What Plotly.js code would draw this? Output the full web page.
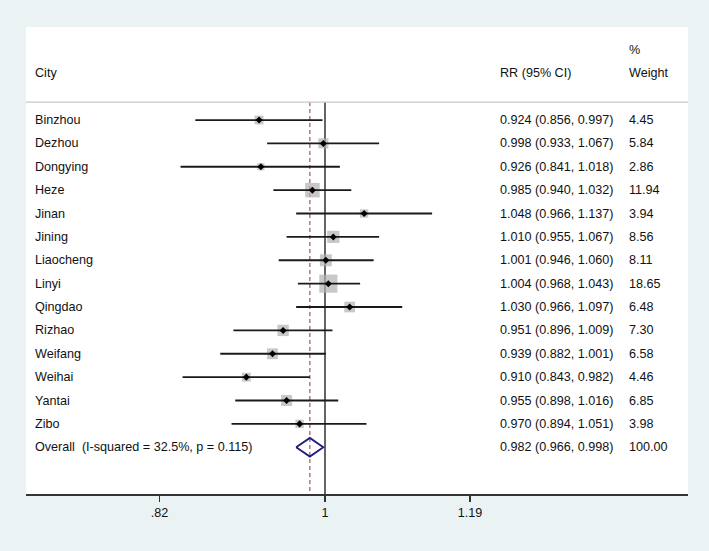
<!DOCTYPE html>
<html>
<head>
<meta charset="utf-8">
<script src="https://cdn.plot.ly/plotly-3.0.1.min.js"></script>
<style>html,body{margin:0;padding:0;background:#eaf2f3;}</style>
</head>
<body>
<div id="chart" style="width:709px;height:551px;"></div>
<script>
// ---- data ----
var cities = ["Binzhou","Dezhou","Dongying","Heze","Jinan","Jining","Liaocheng","Linyi","Qingdao","Rizhao","Weifang","Weihai","Yantai","Zibo"];
var rr     = [0.924,0.998,0.926,0.985,1.048,1.010,1.001,1.004,1.030,0.951,0.939,0.910,0.955,0.970];
var ciLow  = [0.856,0.933,0.841,0.940,0.966,0.955,0.946,0.968,0.966,0.896,0.882,0.843,0.898,0.894];
var ciHigh = [0.997,1.067,1.018,1.032,1.137,1.067,1.060,1.043,1.097,1.009,1.001,0.982,1.016,1.051];
var weights= [4.45,5.84,2.86,11.94,3.94,8.56,8.11,18.65,6.48,7.30,6.58,4.46,6.85,3.98];
var overallLabel = "Overall\u00a0\u00a0(I-squared = 32.5%, p = 0.115)";
var overallRR = 0.982, overallLow = 0.966, overallHigh = 0.998, overallWeight = 100.00;
var tickVals = [0.82, 1, 1.19];
var tickText = [".82", "1", "1.19"];
var headers = {city: "City", rr: "RR (95% CI)", pct: "%", weight: "Weight"};

// ---- build ----
var n = cities.length;
var rows = cities.map(function(_, i){ return i; });
var overallRow = n;
var yBottom = 16.0, yTop = -3.98, headerLineY = -0.77;
var txt = {family: "Liberation Sans, Arial, sans-serif", size: 12.6, color: "#111"};

var ciX = [], ciY = [];
for (var i = 0; i < n; i++) { ciX.push(ciLow[i], ciHigh[i], null); ciY.push(rows[i], rows[i], null); }

var traces = [
  {x: [1, 1], y: [headerLineY, yBottom], mode: "lines", line: {color: "#111", width: 1.3}, hoverinfo: "skip"},
  {x: [overallRR, overallRR], y: [headerLineY, yBottom], mode: "lines", line: {color: "#a8525c", width: 1.2, dash: "4px,3px"}, hoverinfo: "skip"},
  {x: rr, y: rows, mode: "markers", marker: {symbol: "square", color: "#b0b0b0", size: weights.map(function(w){ return 4.2 * Math.sqrt(w); }), line: {width: 0}}, hoverinfo: "skip"},
  {x: ciX, y: ciY, mode: "lines", line: {color: "#1a1a1a", width: 1.8}, hoverinfo: "skip"},
  {x: rr, y: rows, mode: "markers", marker: {symbol: "diamond", color: "#000", size: 5.4, line: {width: 0}}, hoverinfo: "skip"},
  {x: [overallLow, overallRR, overallHigh, overallRR, overallLow], y: [overallRow, overallRow - 0.4, overallRow, overallRow + 0.4, overallRow], mode: "lines", line: {color: "#1c1c82", width: 1.8}, hoverinfo: "skip"}
];

var xCity = (34 - 26) / 662, xRR = (499 - 26) / 662, xW = (628 - 26) / 662;
var ann = [];
function addText(x, y, t) {
  ann.push({xref: "paper", yref: "y", x: x, y: y, text: t, showarrow: false, xanchor: "left", yanchor: "middle", font: txt, borderpad: 0});
}
addText(xCity, -2, headers.city);
addText(xRR, -2, headers.rr);
addText(xW, -3, headers.pct);
addText(xW, -2, headers.weight);
for (var j = 0; j < n; j++) {
  addText(xCity, rows[j], cities[j]);
  addText(xRR, rows[j], rr[j].toFixed(3) + " (" + ciLow[j].toFixed(3) + ", " + ciHigh[j].toFixed(3) + ")");
  addText(xW, rows[j], weights[j].toFixed(2));
}
addText(xCity, overallRow, overallLabel);
addText(xRR, overallRow, overallRR.toFixed(3) + " (" + overallLow.toFixed(3) + ", " + overallHigh.toFixed(3) + ")");
addText(xW, overallRow, overallWeight.toFixed(2));

var layout = {
  width: 709, height: 551,
  margin: {l: 26, r: 21, t: 27, b: 57},
  paper_bgcolor: "#eaf2f3",
  plot_bgcolor: "#ffffff",
  showlegend: false,
  font: txt,
  xaxis: {
    type: "log", range: [-0.15568, 0.18900],
    tickvals: tickVals, ticktext: tickText,
    ticks: "outside", ticklen: 6, tickwidth: 1.3, tickcolor: "#333",
    showgrid: false, zeroline: false, showline: true, linecolor: "#333", linewidth: 1.5,
    tickfont: txt, fixedrange: true
  },
  yaxis: {range: [yBottom, yTop], visible: false, showgrid: false, zeroline: false, fixedrange: true},
  shapes: [
    {type: "line", xref: "paper", yref: "y", x0: 0, x1: 1, y0: headerLineY, y1: headerLineY, line: {color: "#c8c8c8", width: 1.2}}
  ],
  annotations: ann
};

Plotly.newPlot("chart", traces, layout, {displayModeBar: false, staticPlot: true});
</script>
</body>
</html>
